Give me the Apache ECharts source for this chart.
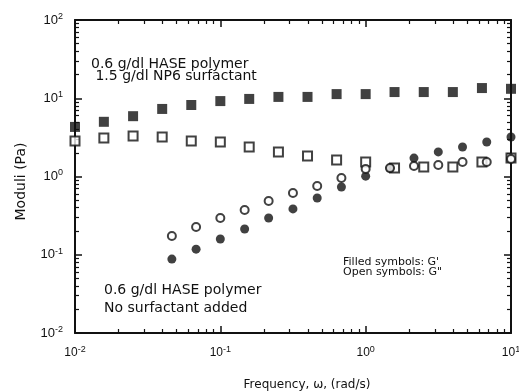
<!DOCTYPE html>
<html>
<head>
<meta charset="utf-8">
<script src="https://cdn.jsdelivr.net/npm/echarts@6/dist/echarts.min.js"></script>
<style>
  html, body { margin: 0; padding: 0; background: #fff; }
  #chart { width: 519px; height: 391px; }
</style>
</head>
<body>
<div id="chart"></div>
<script>
// frequencies (rad/s)
const freqSquares = [0.01, 0.0158, 0.0251, 0.0398, 0.0631, 0.1, 0.158, 0.251, 0.398, 0.631, 1, 1.58, 2.51, 3.98, 6.31, 10];
const freqCircles = [0.0464, 0.0681, 0.1, 0.147, 0.215, 0.316, 0.464, 0.681, 1, 1.47, 2.15, 3.16, 4.64, 6.81, 10];

// 0.6 g/dl HASE + 1.5 g/dl NP6 (squares)
const gPrimeSurf = [4.3, 5.0, 5.9, 7.3, 8.2, 9.2, 9.8, 10.4, 10.4, 11.3, 11.3, 12.0, 12.0, 12.0, 13.5, 13.2];
const gDoubleSurf = [2.84, 3.1, 3.29, 3.2, 2.84, 2.76, 2.38, 2.06, 1.83, 1.62, 1.53, 1.28, 1.32, 1.32, 1.53, 1.72];

// 0.6 g/dl HASE, no surfactant (circles)
const gPrimeNoSurf = [0.088, 0.118, 0.159, 0.213, 0.295, 0.385, 0.531, 0.734, 1.01, 1.28, 1.72, 2.06, 2.38, 2.76, 3.2];
const gDoubleNoSurf = [0.174, 0.226, 0.295, 0.373, 0.486, 0.615, 0.757, 0.957, 1.25, 1.28, 1.36, 1.4, 1.53, 1.53, 1.67];

const font = "'Liberation Sans', Arial, sans-serif";
const textFont = "'DejaVu Sans', sans-serif";
const ink = "#111";

function powLabel(v) {
  const e = Math.round(Math.log10(v));
  return "10{s|" + e + "}";
}

const labelRich = {
  s: { fontSize: 9, fontFamily: font, color: ink, padding: [0, 0, 7, 0] },
};

function logAxis(extra, min, max) {
  return Object.assign({
    type: "log",
    min: min,
    max: max,
    // onZero off, otherwise log-log axes get shifted tick directions
    axisLine: { show: true, onZero: false, lineStyle: { color: ink, width: 2 } },
    splitLine: { show: false },
    axisTick: { show: true, inside: true, length: 7, lineStyle: { color: ink, width: 1.5 } },
    minorTick: { show: true, splitNumber: 9, length: 4, lineStyle: { color: ink, width: 1.2 } },
    axisLabel: { show: false },
  }, extra);
}

const chart = echarts.init(document.getElementById("chart"));

const option = {
  backgroundColor: "#fff",
  animation: false,
  grid: {
    left: 75,
    right: 8,
    top: 20,
    bottom: 58,
    containLabel: false,
    outerBoundsMode: "none",
  },
  xAxis: [
    logAxis({
      position: "bottom",
      name: "Frequency, \u03c9, (rad/s)",
      nameLocation: "middle",
      nameGap: 46,
      nameTextStyle: { fontFamily: textFont, fontSize: 12, color: ink, padding: [0, 0, 0, 28] },
      axisLabel: {
        show: true,
        margin: 12,
        fontFamily: font,
        fontSize: 12,
        color: ink,
        formatter: powLabel,
        rich: labelRich,
      },
    }, 0.01, 10),
    logAxis({ position: "top" }, 0.01, 10),
  ],
  yAxis: [
    logAxis({
      position: "left",
      name: "Moduli (Pa)",
      nameLocation: "middle",
      nameGap: 47,
      nameTextStyle: { fontFamily: textFont, fontSize: 14, color: ink, padding: [0, 10, 0, 0] },
      axisLabel: {
        show: true,
        margin: 12,
        fontFamily: font,
        fontSize: 13,
        color: ink,
        formatter: powLabel,
        rich: labelRich,
      },
    }, 0.01, 100),
    logAxis({ position: "right" }, 0.01, 100),
  ],
  graphic: [
    {
      type: "text", left: 91, top: 57,
      style: { text: "0.6 g/dl HASE polymer\n 1.5 g/dl NP6 surfactant", fontFamily: textFont, fontSize: 14, lineHeight: 12, fill: ink },
    },
    {
      type: "text", left: 104, top: 281,
      style: { text: "0.6 g/dl HASE polymer\nNo surfactant added", fontFamily: textFont, fontSize: 14, lineHeight: 18, fill: ink },
    },
    {
      type: "text", left: 343, top: 257,
      style: { text: "Filled symbols: G'\nOpen symbols: G\"", fontFamily: textFont, fontSize: 11, lineHeight: 10, fill: ink },
    },
  ],
  series: [
    {
      name: "G'' surfactant",
      type: "scatter",
      clip: false,
      symbol: "rect",
      symbolSize: 9,
      itemStyle: { color: "#fff", borderColor: ink, borderWidth: 2 },
      data: freqSquares.map((f, i) => [f, gDoubleSurf[i]]),
    },
    {
      name: "G' surfactant",
      type: "scatter",
      clip: false,
      symbol: "rect",
      symbolSize: 10,
      itemStyle: { color: ink },
      data: freqSquares.map((f, i) => [f, gPrimeSurf[i]]),
    },
    {
      name: "G' no surfactant",
      type: "scatter",
      clip: false,
      symbol: "circle",
      symbolSize: 9,
      itemStyle: { color: ink },
      data: freqCircles.map((f, i) => [f, gPrimeNoSurf[i]]),
    },
    {
      name: "G'' no surfactant",
      type: "scatter",
      clip: false,
      symbol: "circle",
      symbolSize: 8,
      itemStyle: { color: "#fff", borderColor: ink, borderWidth: 2 },
      data: freqCircles.map((f, i) => [f, gDoubleNoSurf[i]]),
    },
  ],
};

option && chart.setOption(option);
</script>
</body>
</html>
